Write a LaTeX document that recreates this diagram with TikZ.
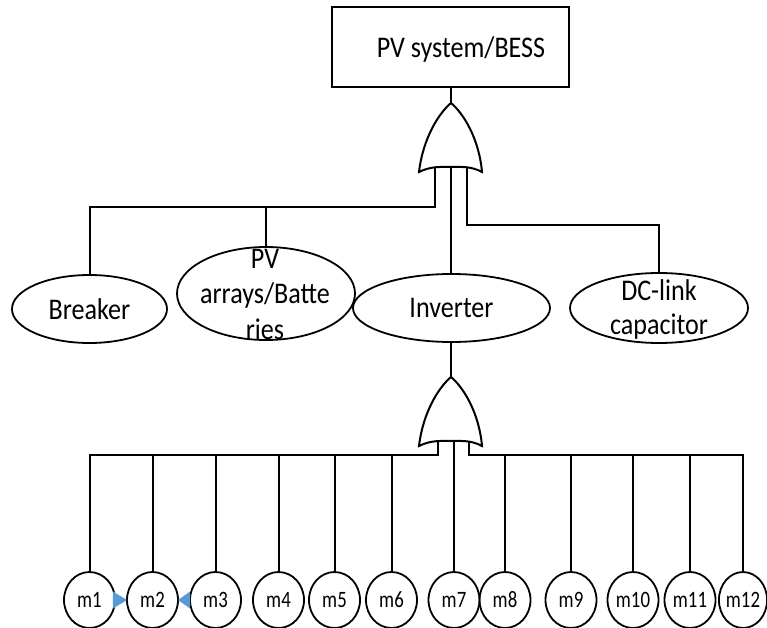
\documentclass[tikz,border=0pt]{standalone}
\usepackage{fontspec}
\setmainfont{Carlito}
\newfontfamily\tfont[FakeStretch=0.87]{Carlito}
\newfontfamily\mfont[FakeStretch=0.8]{Carlito}
\usetikzlibrary{calc,shapes.geometric}
\definecolor{triblue}{HTML}{5B9BD5}
\begin{document}
\begin{tikzpicture}[x=1pt,y=-1pt,line width=2pt,
  box/.style={draw,rectangle,inner sep=0pt,line width=2pt},
  ell/.style={draw,ellipse,inner sep=0pt,line width=1.8pt,font=\tfont\fontsize{30}{34}\selectfont},
  mell/.style={ell,minimum width=51pt,minimum height=56pt,font=\mfont\fontsize{23.5}{23.5}\selectfont},
  lbl/.style={inner sep=0pt,anchor=base},
  conn/.style={line width=2pt},
  tri/.style={fill=triblue,draw=none},
  orgate/.pic={
    \draw[line width=2pt,fill=white]
      (0,0) .. controls (-12,10) and (-28,35) .. (-32,69)
      .. controls (-20,63) and (-10,64) .. (0,64)
      .. controls (10,64) and (20,63) .. (31,69)
      .. controls (28,35) and (12,10) .. (0,0) -- cycle;
    \coordinate (-apex) at (0,0);
  }]
\useasboundingbox (0,0) rectangle (767,628);

% top event
\node[box,minimum width=237pt,minimum height=80pt] (sys) at (450.5,47) {};
\node[lbl,font=\tfont\fontsize{30}{34}\selectfont] (systxt) at (461,58) {PV system/BESS};

% gate 1
\pic (g1) at (451,103) {orgate};
\coordinate (g1l) at (435,167);
\coordinate (g1m) at (451,166);
\coordinate (g1r) at (467,167);

% level 2 events
\node[ell,minimum width=155pt,minimum height=68pt] (brk) at (89.5,309) {Breaker};
\node[ell,minimum width=178pt,minimum height=93pt] (pv) at (266,293.5) {};
\node[lbl,font=\tfont\fontsize{30}{35.5}\selectfont] (pvtxt) at (265,268)
  {\vtop{\halign{\hfil#\hfil\cr PV\cr arrays/Batte\cr ries\cr}}};
\node[ell,minimum width=197pt,minimum height=68pt] (inv) at (451.5,308) {Inverter};
\node[ell,minimum width=178pt,minimum height=70pt] (dc) at (659,308) {};
\node[lbl,font=\tfont\fontsize{30}{34}\selectfont] (dctxt) at (659,300)
  {\vtop{\halign{\hfil#\hfil\cr DC-link\cr capacitor\cr}}};

% gate 1 connectors
\draw[conn] (g1-apex |- sys.south) -- (g1-apex);
\draw[conn] (g1l) -- ++(0,40) coordinate (busL) -| (brk.north);
\draw[conn] (pv.north |- busL) -- (pv.north);
\draw[conn] (g1m) -- (g1m |- inv.north);
\draw[conn] (g1r) -- ++(0,58) -| (dc.north);

% gate 2
\pic (g2) at (451,377) {orgate};
\coordinate (g2l) at (437.5,441);
\coordinate (g2m) at (453.5,441);
\coordinate (g2r) at (469,441);

% basic events
\foreach \n/\x in {1/89.5,2/152.5,3/215.5,4/278.5,5/334.5,6/391.5,7/454,8/505,9/571,10/633,11/690}
  \node[mell] (m\n) at (\x,600) {m\n};
\node[mell,minimum width=48pt] (m12) at (743,600) {m12};

% gate 2 connectors
\draw[conn] (g2-apex |- inv.south) -- (g2-apex);
\draw[conn] (g2l) -- ++(0,14) coordinate (busL2) -| (m1.north);
\foreach \n in {2,3,4,5,6}
  \draw[conn] (m\n.north |- busL2) -- (m\n.north);
\draw[conn] (g2m) -- (g2m |- m7.north);
\draw[conn] (g2r) -- ++(0,14) coordinate (busR2) -| (m12.north);
\foreach \n in {8,9,10,11}
  \draw[conn] (m\n.north |- busR2) -- (m\n.north);

% blue arrowheads
\fill[tri] ($(m1.east)+(-3,-8.5)$) -- ($(m1.east)+(-3,8.5)$) -- ($(m2.west)+(1,0)$) -- cycle;
\fill[tri] ($(m3.west)+(1,-8.5)$) -- ($(m3.west)+(1,8.5)$) -- ($(m2.east)+(-1,0)$) -- cycle;
\end{tikzpicture}
\end{document}
